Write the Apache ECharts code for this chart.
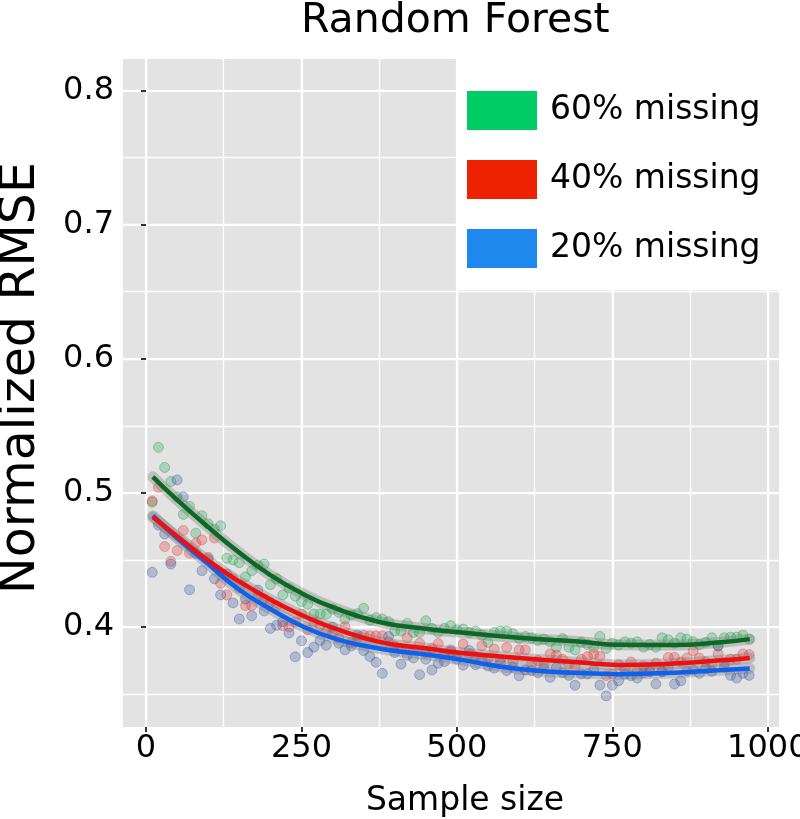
<!DOCTYPE html>
<html>
<head>
<meta charset="utf-8">
<title>Random Forest</title>
<script src="https://cdn.jsdelivr.net/npm/echarts@6/dist/echarts.min.js"></script>
<style>
  html, body { margin: 0; padding: 0; background: #fff; }
  #chart { width: 800px; height: 819px; }
</style>
</head>
<body>
<div id="chart"></div>
<script>
// sample sizes of the simulation runs
var sampleSizes = [10, 20, 30, 40, 50, 60, 70, 80, 90, 100,
  110, 120, 130, 140, 150, 160, 170, 180, 190, 200,
  210, 220, 230, 240, 250, 260, 270, 280, 290, 300,
  310, 320, 330, 340, 350, 360, 370, 380, 390, 400,
  410, 420, 430, 440, 450, 460, 470, 480, 490, 500,
  510, 520, 530, 540, 550, 560, 570, 580, 590, 600,
  610, 620, 630, 640, 650, 660, 670, 680, 690, 700,
  710, 720, 730, 740, 750, 760, 770, 780, 790, 800,
  810, 820, 830, 840, 850, 860, 870, 880, 890, 900,
  910, 920, 930, 940, 950, 960, 970];

// normalized RMSE per run
var rmse60 = [0.493, 0.534, 0.519, 0.5085, 0.497, 0.484, 0.490, 0.470, 0.483, 0.477,
  0.473, 0.4755, 0.4513, 0.450, 0.448, 0.4375, 0.442, 0.4463, 0.447, 0.4316,
  0.436, 0.424, 0.429, 0.423, 0.419, 0.417, 0.4097, 0.4097, 0.4097, 0.4134,
  0.411, 0.406, 0.409, 0.410, 0.414, 0.405, 0.407, 0.406, 0.404, 0.397,
  0.397, 0.4027, 0.396, 0.396, 0.4047, 0.399, 0.396, 0.399, 0.401, 0.398,
  0.3985, 0.396, 0.397, 0.394, 0.3886, 0.396, 0.397, 0.397, 0.395, 0.3915,
  0.393, 0.392, 0.390, 0.391, 0.389, 0.3849, 0.3914, 0.385, 0.383, 0.3886,
  0.387, 0.385, 0.393, 0.384, 0.388, 0.3866, 0.389, 0.388, 0.389, 0.385,
  0.387, 0.385, 0.392, 0.3905, 0.388, 0.392, 0.391, 0.389, 0.387, 0.3886,
  0.392, 0.386, 0.392, 0.3925, 0.3925, 0.394, 0.391];

var rmse40 = [0.494, 0.504, 0.460, 0.449, 0.457, 0.472, 0.455, 0.4625, 0.465, 0.452,
  0.4664, 0.4326, 0.424, 0.436, 0.429, 0.416, 0.416, 0.423, 0.421, 0.4184,
  0.4157, 0.401, 0.400, 0.4036, 0.4097, 0.398, 0.4036, 0.401, 0.397, 0.395,
  0.392, 0.4003, 0.3885, 0.392, 0.394, 0.3935, 0.3935, 0.3935, 0.389, 0.386,
  0.384, 0.392, 0.383, 0.388, 0.381, 0.384, 0.3878, 0.380, 0.383, 0.379,
  0.3873, 0.380, 0.378, 0.3861, 0.377, 0.3836, 0.376, 0.3848, 0.374, 0.383,
  0.383, 0.3724, 0.375, 0.3724, 0.380, 0.379, 0.376, 0.3724, 0.371, 0.376,
  0.378, 0.380, 0.378, 0.3637, 0.365, 0.372, 0.369, 0.374, 0.3668, 0.371,
  0.367, 0.373, 0.3668, 0.3774, 0.3774, 0.374, 0.377, 0.3823, 0.377, 0.374,
  0.372, 0.380, 0.3735, 0.376, 0.376, 0.380, 0.3795];

var rmse20 = [0.4408, 0.476, 0.4694, 0.447, 0.5097, 0.497, 0.4278, 0.455, 0.442, 0.4508,
  0.436, 0.424, 0.4395, 0.418, 0.406, 0.421, 0.4084, 0.4276, 0.412, 0.399,
  0.4013, 0.404, 0.3955, 0.3778, 0.3898, 0.381, 0.385, 0.390, 0.3865, 0.400,
  0.388, 0.383, 0.386, 0.394, 0.3825, 0.378, 0.3737, 0.3655, 0.393, 0.381,
  0.3724, 0.379, 0.377, 0.3645, 0.376, 0.368, 0.373, 0.3743, 0.3817, 0.376,
  0.3716, 0.3825, 0.372, 0.3769, 0.371, 0.3694, 0.373, 0.3676, 0.370, 0.3637,
  0.368, 0.3676, 0.366, 0.369, 0.3625, 0.3699, 0.366, 0.364, 0.3567, 0.365,
  0.365, 0.368, 0.3567, 0.3487, 0.3567, 0.360, 0.365, 0.3637, 0.362, 0.366,
  0.3668, 0.3575, 0.3668, 0.370, 0.3575, 0.360, 0.3673, 0.368, 0.3655, 0.369,
  0.367, 0.386, 0.370, 0.364, 0.362, 0.3655, 0.364];

// smoothed (loess) fit
var fitSizes = [11, 50, 100, 150, 200, 250, 300, 375, 450, 500, 600, 700, 760, 850, 920, 971];
var fit60 = [0.512, 0.4948, 0.4745, 0.4555, 0.4388, 0.4253, 0.4148, 0.4038, 0.3988, 0.3963, 0.392, 0.389, 0.3868, 0.3866, 0.3885, 0.391];
var fit40 = [0.482, 0.4677, 0.4495, 0.434, 0.4205, 0.409, 0.3995, 0.389, 0.3842, 0.3811, 0.377, 0.3735, 0.3718, 0.3728, 0.375, 0.377];
var fit20 = [0.483, 0.4664, 0.447, 0.4278, 0.4135, 0.401, 0.392, 0.384, 0.3795, 0.3761, 0.3687, 0.3657, 0.3649, 0.366, 0.3678, 0.3692];

var xTicks = [0, 250, 500, 750, 1000];
var xGrid = [0, 125, 250, 375, 500, 625, 750, 875, 1000];
var yTicks = [0.4, 0.5, 0.6, 0.7, 0.8];
var yGrid = [0.35, 0.4, 0.45, 0.5, 0.55, 0.6, 0.65, 0.7, 0.75, 0.8];

var groupNames = ['60% missing', '40% missing', '20% missing'];
var font = 'DejaVu Sans';

function pairs(xs, ys) {
  return xs.map(function (x, i) { return [x, ys[i]]; });
}

var myChart = echarts.init(document.getElementById('chart'), null, { renderer: 'canvas' });

var groups = [
  { name: groupNames[0], pts: rmse60, fit: fit60, dot: 'rgba(40,170,90,0.3)', ring: 'rgba(30,140,70,0.35)', line: '#0b6a22', key: '#00cc66' },
  { name: groupNames[1], pts: rmse40, fit: fit40, dot: 'rgba(235,40,40,0.28)', ring: 'rgba(210,40,40,0.3)', line: '#ee1010', key: '#ee2200' },
  { name: groupNames[2], pts: rmse20, fit: fit20, dot: 'rgba(60,90,160,0.3)', ring: 'rgba(50,80,150,0.35)', line: '#0e60ee', key: '#1e88ee' }
];

var series = [];
// points first
groups.forEach(function (g) {
  series.push({
    name: g.name,
    type: 'scatter',
    symbol: 'circle',
    symbolSize: 10,
    data: pairs(sampleSizes, g.pts),
    itemStyle: { color: g.dot, borderColor: g.ring, borderWidth: 1, opacity: 1 },
    z: 2
  });
});
// smooth fits with a grey band, blue under red under green
[groups[2], groups[1], groups[0]].forEach(function (g) {
  series.push({
    name: g.name,
    type: 'line',
    data: pairs(fitSizes, g.fit),
    smooth: 0.5,
    showSymbol: false,
    lineStyle: { color: 'rgba(120,120,120,0.35)', width: 11, cap: 'round' },
    itemStyle: { color: g.line },
    z: 3
  });
  series.push({
    name: g.name,
    type: 'line',
    data: pairs(fitSizes, g.fit),
    smooth: 0.5,
    showSymbol: false,
    lineStyle: { color: g.line, width: 4.5 },
    itemStyle: { color: g.line },
    z: 4
  });
});

var option = {
  backgroundColor: '#fff',
  animation: false,
  textStyle: { fontFamily: font },
  title: {
    text: 'Random Forest',
    left: 296,
    top: -4,
    textStyle: { fontFamily: font, fontSize: 41, fontWeight: 'normal', color: '#000' }
  },
  legend: {
    orient: 'vertical',
    left: 456,
    top: 59,
    padding: [32, 22, 22, 11],
    backgroundColor: '#fff',
    itemWidth: 70,
    itemHeight: 39,
    itemGap: 30,
    selectedMode: false,
    icon: 'rect',
    data: groups.map(function (g) {
      return { name: g.name, icon: 'rect', itemStyle: { color: g.key, borderWidth: 0, opacity: 1 } };
    }),
    textStyle: { fontFamily: font, fontSize: 33, color: '#000', padding: [0, 0, 0, 8] },
    z: 10
  },
  grid: {
    left: 123,
    right: 21,
    top: 59,
    bottom: 92,
    show: true,
    backgroundColor: '#e3e3e3',
    borderWidth: 0,
    containLabel: false,
    outerBoundsMode: 'none'
  },
  xAxis: [
    {
      type: 'value', min: -37, max: 1018, position: 'bottom',
      axisLine: { show: false },
      axisTick: { show: false, customValues: xGrid },
      axisLabel: { show: false },
      splitLine: { show: true, lineStyle: { color: '#fff', width: 1.3 } }
    },
    {
      type: 'value', min: -37, max: 1018, position: 'bottom', offset: 0,
      axisLine: { show: false },
      axisTick: { show: true, customValues: xTicks, length: 5, lineStyle: { color: '#333', width: 2 } },
      axisLabel: {
        customValues: xTicks, margin: 6, fontFamily: font, fontSize: 32, color: '#000',
        formatter: function (v) { return String(v); }
      },
      splitLine: { show: true, lineStyle: { color: '#fff', width: 2.2 } },
      name: 'Sample size',
      nameLocation: 'middle',
      nameGap: 58,
      nameTextStyle: { fontFamily: font, fontSize: 33, color: '#000', padding: [0, 0, 0, 28] }
    }
  ],
  yAxis: [
    {
      type: 'value', min: 0.3255, max: 0.8235, position: 'left',
      axisLine: { show: false },
      axisTick: { show: false, customValues: yGrid },
      axisLabel: { show: false },
      splitLine: { show: true, lineStyle: { color: '#fff', width: 1.3 } }
    },
    {
      type: 'value', min: 0.3255, max: 0.8235, position: 'left', offset: 0,
      axisLine: { show: false },
      axisTick: { show: true, customValues: yTicks, length: 5, lineStyle: { color: '#333', width: 2 } },
      axisLabel: {
        customValues: yTicks, margin: 9, fontFamily: font, fontSize: 32, color: '#000',
        formatter: function (v) { return v.toFixed(1); }
      },
      splitLine: { show: true, lineStyle: { color: '#fff', width: 2.2 } },
      name: 'Normalized RMSE',
      nameLocation: 'middle',
      nameGap: 77,
      nameTextStyle: { fontFamily: font, fontSize: 49, color: '#000', padding: [0, 0, 0, 30] }
    }
  ],
  series: series
};

myChart.setOption(option);
window.addEventListener('resize', function () { myChart.resize(); });
</script>
</body>
</html>
